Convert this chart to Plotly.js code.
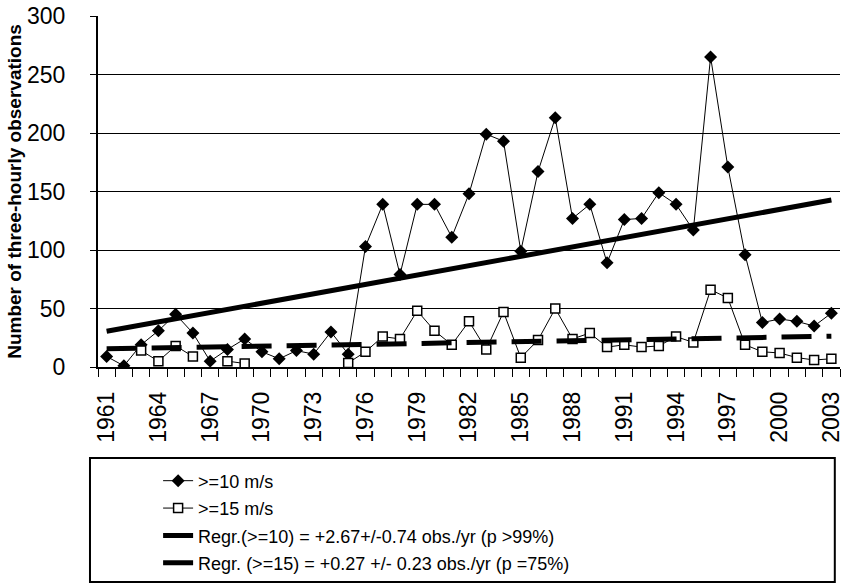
<!DOCTYPE html>
<html>
<head>
<meta charset="utf-8">
<script src="https://cdn.plot.ly/plotly-3.0.1.min.js"></script>
<style>html,body{margin:0;padding:0;background:#fff;}#chart{width:843px;height:584px;}</style>
</head>
<body>
<div id="chart"></div>
<script>
const years = [1961,1962,1963,1964,1965,1966,1967,1968,1969,1970,1971,1972,1973,1974,1975,1976,1977,1978,1979,1980,1981,1982,1983,1984,1985,1986,1987,1988,1989,1990,1991,1992,1993,1994,1995,1996,1997,1998,1999,2000,2001,2002,2003];
const ge10 = [9,1,19,31,45,29,5,15,24,13,7,14,11,30,11,103,139,79,139,139,111,148,199,193,99,167,213,127,139,89,126,127,149,139,117,265,171,96,38,41,39,35,46];
const ge15 = [null,null,14,5,18,9,null,5,3,null,null,null,null,null,3.5,13,26,24,48,31,19,39,15,47,8,23,50,24,29,17,19,17,18,26,21,66,59,19,13,12,8,6,7];
const regYears = [1961, 2003];
const reg10 = [30.5, 142.7];
const reg15 = [15.5, 26.3];
const yTicks = [0,50,100,150,200,250,300];
const xTicks = [1961,1964,1967,1970,1973,1976,1979,1982,1985,1988,1991,1994,1997,2000,2003];
const names = [">=10 m/s", ">=15 m/s", "Regr.(>=10) = +2.67+/-0.74 obs./yr (p >99%)", "Regr. (>=15) = +0.27 +/- 0.23 obs./yr (p =75%)"];

const FONT = "'Liberation Sans', Arial, sans-serif";

const traces = [
  {x: years, y: ge10, name: names[0], legendgroup: 'a', type: 'scatter', mode: 'lines+markers',
   line: {color: '#000', width: 1}, marker: {symbol: 'diamond', size: 10, color: '#000'}},
  {x: years, y: ge15, name: names[1], legendgroup: 'b', type: 'scatter', mode: 'lines+markers', connectgaps: false,
   line: {color: '#000', width: 1}, marker: {symbol: 'square', size: 9, color: '#fff', line: {color: '#000', width: 1.5}}},
  {x: regYears, y: reg10, name: names[2], legendgroup: 'c', type: 'scatter', mode: 'lines',
   line: {color: '#000', width: 5}},
  {x: regYears, y: reg15, name: names[3], legendgroup: 'd', type: 'scatter', mode: 'lines',
   line: {color: '#000', width: 5, dash: '30px,15px'}}
];

const layout = {
  width: 843, height: 584,
  margin: {l: 98, r: 3, t: 16, b: 217, autoexpand: false},
  paper_bgcolor: '#fff', plot_bgcolor: '#fff',
  font: {family: FONT, color: '#000'},
  showlegend: true,
  legend: {x: 0.081, y: -0.272, xanchor: 'left', yanchor: 'top', bgcolor: 'rgba(0,0,0,0)',
           borderwidth: 0, font: {family: FONT, size: 18, color: '#000'}, tracegroupgap: 1},
  xaxis: {type: 'linear', range: [1960.5, 2003.5], tickmode: 'array', tickvals: xTicks,
          tickangle: -90, tickfont: {size: 23, family: FONT}, ticks: '', showgrid: false,
          ticklabeloverflow: 'allow', ticklabelstandoff: 14,
          showline: true, linecolor: '#000', linewidth: 1.5, zeroline: false,
          minor: {tickmode: 'linear', tick0: 1960.5, dtick: 1, ticks: 'outside', ticklen: 8, tickcolor: '#000', tickwidth: 1, showgrid: false},
          fixedrange: true},
  yaxis: {range: [0, 300], tickmode: 'array', tickvals: yTicks, tickfont: {size: 23, family: FONT},
          ticks: 'outside', ticklen: 6, tickcolor: '#000', showgrid: true, gridcolor: '#000', gridwidth: 1,
          ticklabelstandoff: 20,
          showline: true, linecolor: '#000', linewidth: 2, zeroline: false,
          title: {text: 'Number of three-hourly observations', font: {size: 19, family: FONT, weight: 'bold'}, standoff: 0},
          fixedrange: true},
  shapes: [{type: 'rect', xref: 'paper', yref: 'paper', x0: -0.0108, x1: 0.993, y0: -0.6125, y1: -0.259,
            line: {color: '#000', width: 2}, fillcolor: 'rgba(0,0,0,0)'}]
};

Plotly.newPlot('chart', traces, layout, {displayModeBar: false, staticPlot: true});
</script>
</body>
</html>
